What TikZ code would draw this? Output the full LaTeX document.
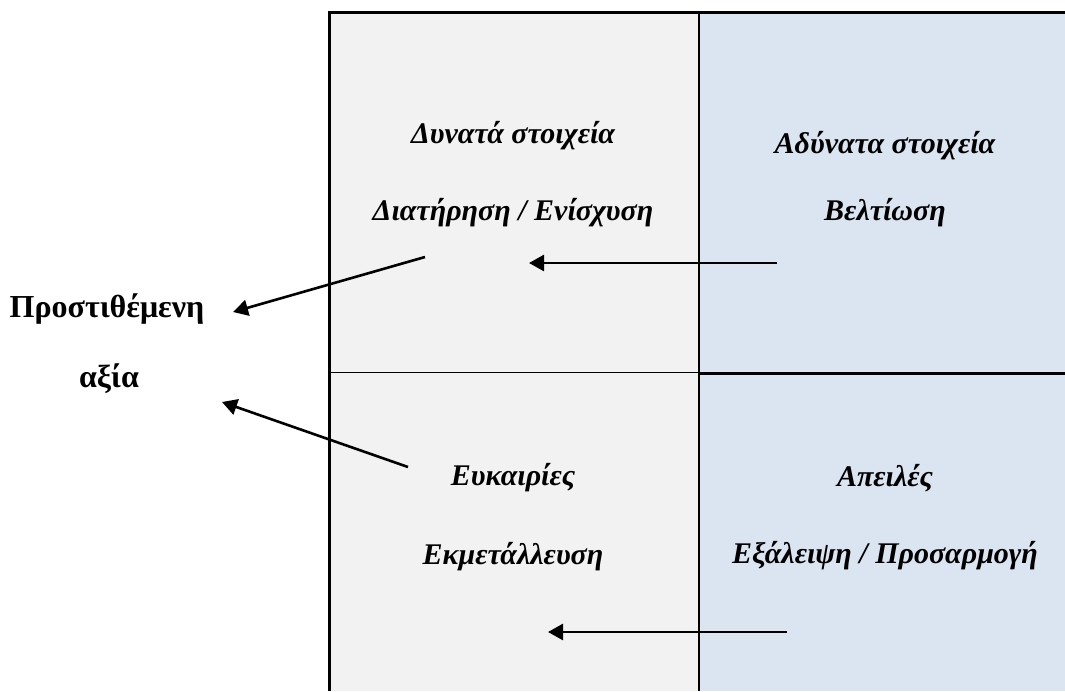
\documentclass[tikz,border=0pt]{standalone}
\usepackage{fontspec}
\setmainfont{Liberation Serif}
\usepackage{xcolor}
\usetikzlibrary{arrows.meta, positioning}

\definecolor{leftgray}{HTML}{F2F2F2}
\definecolor{rightblue}{HTML}{DBE5F1}

\begin{document}
\begin{tikzpicture}[x=1pt, y=-1pt,
    quadtitle/.style={font=\fontsize{30}{32}\selectfont\bfseries\itshape, anchor=base, inner sep=0pt},
    sidetext/.style={font=\fontsize{32}{34}\selectfont\bfseries, anchor=base, inner sep=0pt},
    arrow/.style={-{Triangle[length=15pt, width=16pt]}, line width=2.6pt}
]
\useasboundingbox (0,0) rectangle (1065,691);

% Quadrants
\fill[leftgray] (329.5,12.5) rectangle (699,691);
\fill[rightblue] (699,12.5) rectangle (1065,691);

% Borders
\draw[line width=2.8pt] (329.5,691) -- (329.5,12.5) -- (1065,12.5);
\draw[line width=2.6pt] (699,12.5) -- (699,691);
\draw[line width=1.2pt] (329.5,372.5) -- (699,372.5);
\draw[line width=2.8pt] (699,373.3) -- (1065,373.3);

% Texts
\node[quadtitle] (strengths) at (513,143) {Δυνατά στοιχεία};
\node[quadtitle] (maintain) at (513,220) {Διατήρηση / Ενίσχυση};
\node[quadtitle] (weaknesses) at (885,153) {Αδύνατα στοιχεία};
\node[quadtitle] (improve) at (885,220) {Βελτίωση};
\node[quadtitle] (opportunities) at (513,485) {Ευκαιρίες};
\node[quadtitle] (exploit) at (513,564) {Εκμετάλλευση};
\node[quadtitle] (threats) at (885,486) {Απειλές};
\node[quadtitle] (adapt) at (885,563) {Εξάλειψη / Προσαρμογή};
\node[sidetext] (added) at (107,317) {Προστιθέμενη};
\node[sidetext] (value) at (109,387) {αξία};

% Arrow ends
\coordinate (s1) at (425,257);
\coordinate (e1) at (233,312);
\coordinate (s2) at (408,467);
\coordinate (e2) at (222,402);
\coordinate (s3) at (777,263);
\coordinate (e3) at (529,263);
\coordinate (s4) at (787,632);
\coordinate (e4) at (548,632);

% Arrows
\draw[arrow] (s1) -- (e1);
\draw[arrow] (s2) -- (e2);
\draw[arrow] (s3) -- (e3);
\draw[arrow] (s4) -- (e4);

\end{tikzpicture}
\end{document}
